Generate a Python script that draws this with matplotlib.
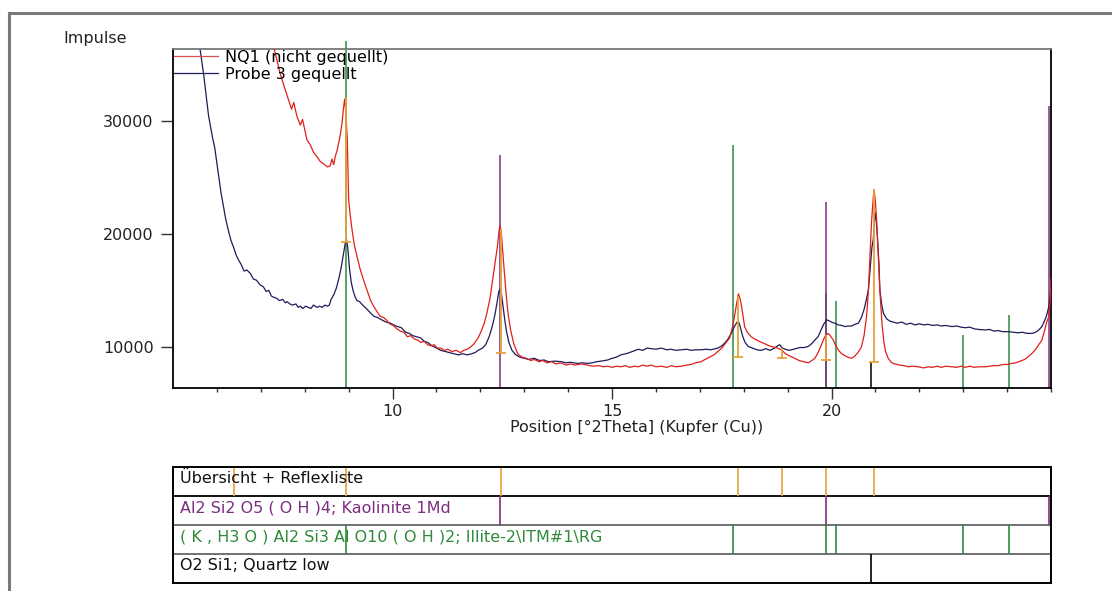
import numpy as np
import matplotlib
matplotlib.use("Agg")
import matplotlib.pyplot as plt
from matplotlib.lines import Line2D

# NQ1 (nicht gequellt)
theta_nq1 = [5.0, 6.0, 7.0, 7.3, 7.45, 7.6, 7.7, 7.75, 7.82, 7.9, 7.95, 8.05, 8.12, 8.2, 8.28, 8.35,
             8.45, 8.52, 8.58, 8.62, 8.66, 8.7, 8.74, 8.8, 8.85, 8.88, 8.91, 8.94, 8.97, 9.0, 9.04,
             9.08, 9.13, 9.19, 9.26, 9.34, 9.42, 9.5, 9.57, 9.65, 9.72, 9.8, 9.88, 9.95, 10.02, 10.1,
             10.18, 10.26, 10.34, 10.41, 10.5, 10.58, 10.64, 10.72, 10.8, 10.88, 10.95, 11.02, 11.1,
             11.18, 11.26, 11.35, 11.45, 11.55, 11.62, 11.7, 11.78, 11.86, 11.95, 12.02, 12.09, 12.15,
             12.22, 12.28, 12.34, 12.39, 12.43, 12.45, 12.48, 12.5, 12.54, 12.58, 12.63, 12.69, 12.76,
             12.85, 12.95, 13.05, 13.15, 13.23, 13.33, 13.42, 13.52, 13.62, 13.72, 13.84, 13.95, 14.05,
             14.15, 14.3, 14.44, 14.55, 14.7, 14.8, 14.9, 15.0, 15.1, 15.2, 15.3, 15.4, 15.51, 15.6,
             15.7, 15.8, 15.89, 16.0, 16.12, 16.25, 16.35, 16.45, 16.58, 16.7, 16.8, 16.9, 17.03, 17.12,
             17.22, 17.32, 17.41, 17.5, 17.58, 17.68, 17.74, 17.79, 17.84, 17.88, 17.92, 17.95, 17.99,
             18.02, 18.08, 18.17, 18.25, 18.35, 18.47, 18.58, 18.68, 18.77, 18.86, 18.95, 19.05, 19.16,
             19.26, 19.36, 19.47, 19.55, 19.62, 19.68, 19.75, 19.81, 19.86, 19.92, 19.97, 20.04, 20.1,
             20.16, 20.23, 20.32, 20.4, 20.46, 20.53, 20.6, 20.68, 20.74, 20.8, 20.84, 20.88, 20.91,
             20.95, 20.97, 21.0, 21.03, 21.07, 21.1, 21.15, 21.19, 21.23, 21.29, 21.37, 21.45, 21.55,
             21.65, 21.75, 21.85, 21.97, 22.1, 22.2, 22.3, 22.4, 22.5, 22.6, 22.74, 22.85, 22.95, 23.05,
             23.15, 23.25, 23.35, 23.5, 23.6, 23.7, 23.8, 23.9, 24.0, 24.11, 24.2, 24.3, 24.4, 24.5,
             24.57, 24.65, 24.72, 24.79, 24.85, 24.9, 24.95, 24.98, 25.0]
counts_nq1 = [48000, 44000, 38500, 36400, 34000, 32200, 31000, 31600, 30400, 29600, 30100, 28300, 27900,
              27200, 26800, 26400, 26100, 25900, 26000, 26600, 26100, 26900, 27400, 28500, 29800, 31000,
              31900, 30500, 28300, 23000, 21500, 20300, 19000, 18000, 16900, 15900, 15000, 14100, 13600,
              13100, 12700, 12600, 12300, 12000, 11900, 11600, 11400, 11300, 10900, 11000, 10700, 10600,
              10400, 10500, 10200, 10100, 10200, 9900, 9900, 9700, 9800, 9600, 9700, 9500, 9700, 9800,
              10000, 10300, 10800, 11400, 12100, 13000, 14300, 15900, 17500, 18900, 20400, 20700, 20100,
              18900, 17000, 15000, 13000, 11500, 10300, 9400, 9100, 9000, 8800, 8900, 8700, 8800, 8600,
              8700, 8500, 8600, 8400, 8500, 8400, 8500, 8400, 8300, 8350, 8250, 8300, 8200, 8300, 8250,
              8350, 8200, 8300, 8250, 8400, 8300, 8400, 8250, 8300, 8200, 8350, 8250, 8300, 8400, 8450,
              8600, 8700, 8900, 9100, 9300, 9600, 9900, 10300, 10800, 11700, 12700, 13900, 14700, 14200,
              13600, 12600, 11800, 11300, 10900, 10700, 10500, 10300, 10100, 10000, 9900, 9750, 9400,
              9200, 9000, 8800, 8700, 8600, 8800, 9000, 9400, 10000, 10600, 11000, 11200, 11000, 10600,
              10100, 9700, 9400, 9200, 9050, 9000, 9200, 9500, 10000, 11000, 12800, 15000, 18500, 21000,
              23200, 23900, 22800, 21000, 17500, 15000, 12000, 10500, 9600, 9000, 8600, 8500, 8400, 8350,
              8250, 8300, 8250, 8150, 8250, 8200, 8300, 8200, 8300, 8250, 8200, 8300, 8200, 8300, 8200,
              8250, 8250, 8300, 8350, 8350, 8450, 8450, 8550, 8600, 8750, 8900, 9200, 9450, 9800, 10200,
              10600, 11400, 12200, 12700, 14000, 16000]

# Probe 3 gequellt
theta_p3 = [5.0, 5.3, 5.5, 5.62, 5.7, 5.81, 5.9, 5.95, 6.03, 6.09, 6.15, 6.2, 6.26, 6.32, 6.38, 6.44,
            6.49, 6.55, 6.62, 6.68, 6.76, 6.83, 6.9, 6.98, 7.06, 7.12, 7.18, 7.24, 7.29, 7.36, 7.42,
            7.5, 7.56, 7.6, 7.66, 7.72, 7.8, 7.85, 7.9, 7.96, 8.02, 8.08, 8.14, 8.2, 8.28, 8.34, 8.4,
            8.46, 8.52, 8.56, 8.6, 8.66, 8.72, 8.78, 8.83, 8.88, 8.92, 8.95, 8.98, 9.02, 9.06, 9.1,
            9.15, 9.19, 9.25, 9.32, 9.4, 9.5, 9.58, 9.66, 9.75, 9.85, 9.95, 10.05, 10.12, 10.2, 10.3,
            10.38, 10.46, 10.55, 10.64, 10.72, 10.8, 10.9, 11.0, 11.1, 11.2, 11.3, 11.4, 11.5, 11.6,
            11.7, 11.8, 11.88, 11.95, 12.05, 12.12, 12.2, 12.27, 12.33, 12.38, 12.42, 12.45, 12.48,
            12.52, 12.56, 12.6, 12.65, 12.72, 12.81, 12.9, 13.0, 13.1, 13.23, 13.35, 13.45, 13.55,
            13.7, 13.84, 13.95, 14.05, 14.2, 14.32, 14.44, 14.55, 14.65, 14.75, 14.9, 15.0, 15.1, 15.2,
            15.36, 15.5, 15.6, 15.7, 15.8, 15.89, 16.0, 16.12, 16.25, 16.35, 16.45, 16.58, 16.7, 16.8,
            16.9, 17.03, 17.15, 17.25, 17.35, 17.41, 17.5, 17.58, 17.64, 17.7, 17.75, 17.8, 17.85,
            17.88, 17.92, 17.95, 17.98, 18.03, 18.1, 18.2, 18.3, 18.4, 18.5, 18.6, 18.7, 18.77, 18.82,
            18.88, 18.95, 19.02, 19.09, 19.18, 19.28, 19.38, 19.47, 19.55, 19.62, 19.7, 19.76, 19.82,
            19.89, 19.95, 20.02, 20.08, 20.15, 20.23, 20.31, 20.38, 20.46, 20.53, 20.61, 20.68, 20.74,
            20.8, 20.84, 20.88, 20.92, 20.95, 20.99, 21.02, 21.05, 21.08, 21.1, 21.14, 21.18, 21.25,
            21.32, 21.4, 21.5, 21.6, 21.7, 21.8, 21.9, 22.0, 22.1, 22.2, 22.3, 22.4, 22.5, 22.6, 22.74,
            22.85, 22.95, 23.05, 23.15, 23.25, 23.35, 23.5, 23.6, 23.7, 23.8, 23.9, 24.03, 24.15, 24.25,
            24.35, 24.45, 24.57, 24.65, 24.72, 24.79, 24.85, 24.9, 24.95, 25.0]
counts_p3 = [46000, 40000, 37500, 36200, 34000, 30400, 28500, 27600, 25400, 23700, 22400, 21300, 20300,
             19400, 18800, 18100, 17700, 17300, 16700, 16800, 16500, 16000, 15900, 15500, 15300, 14900,
             15000, 14500, 14400, 14300, 14100, 14200, 13900, 14000, 13800, 13700, 13800, 13500, 13600,
             13400, 13600, 13500, 13400, 13700, 13500, 13600, 13500, 13700, 13600, 13700, 14200, 14600,
             15200, 16100, 17000, 18200, 19100, 19500, 18800, 16900, 15700, 15000, 14400, 14100, 14000,
             13700, 13400, 13000, 12700, 12600, 12400, 12200, 12100, 11900, 11800, 11700, 11300, 11200,
             11000, 10900, 10800, 10500, 10400, 10100, 9900, 9700, 9600, 9500, 9400, 9300, 9400, 9300,
             9400, 9500, 9700, 9900, 10200, 10900, 11800, 12800, 13900, 14900, 15100, 14700, 13500,
             12300, 11300, 10400, 9700, 9300, 9100, 9000, 8900, 9000, 8800, 8850, 8700, 8750, 8700,
             8600, 8650, 8550, 8600, 8550, 8600, 8700, 8750, 8850, 9000, 9100, 9300, 9450, 9650, 9800,
             9700, 9900, 9850, 9800, 9900, 9750, 9800, 9700, 9750, 9800, 9700, 9750, 9750, 9800, 9750,
             9850, 9900, 10100, 10400, 10700, 11100, 11500, 11900, 12200, 12250, 11800, 11300, 10900,
             10400, 10050, 9900, 9750, 9700, 9850, 9700, 9900, 10100, 10200, 9900, 9800, 9700, 9750,
             9850, 9950, 9950, 10050, 10300, 10600, 10950, 11500, 12000, 12400, 12300, 12150, 12100,
             11950, 11900, 11800, 11850, 11850, 12000, 12100, 12600, 13300, 14300, 15100, 17000, 18800,
             19500, 21900, 21000, 19400, 17300, 15100, 13800, 13000, 12500, 12300, 12200, 12100, 12200,
             12000, 12100, 11950, 12050, 11950, 12000, 11900, 11950, 11850, 11900, 11800, 11850, 11750,
             11700, 11750, 11600, 11550, 11500, 11550, 11400, 11450, 11350, 11350, 11300, 11250, 11300,
             11200, 11200, 11300, 11500, 11800, 12300, 12800, 13600, 15300]

# reference patterns (position, relative height in counts)
illite_pos = [8.93, 17.76, 19.88, 20.10, 23.00, 24.05]
illite_int = [37000, 27800, 14800, 14100, 11100, 12800]
kaolinite_pos = [12.44, 19.87, 24.95]
kaolinite_int = [27000, 22800, 31300]
quartz_pos = [20.90]
quartz_int = [8700]

# Reflexliste: peak position, peak top, background
reflex_pos = [6.39, 8.93, 12.46, 17.86, 18.88, 19.88, 20.96]
reflex_top = [np.nan, 32000, 20400, 14500, 9900, 11100, 23900]
reflex_base = [np.nan, 19300, 9500, 9150, 9000, 8850, 8700]

row_labels = ["Übersicht + Reflexliste",
              "Al2 Si2 O5 ( O H )4; Kaolinite 1Md",
              "( K , H3 O ) Al2 Si3 Al O10 ( O H )2; Illite-2\\ITM#1\\RG",
              "O2 Si1; Quartz low"]

c_red = "#e0201c"
c_blue = "#1c1c5c"
c_green = "#2f8a3a"
c_purple = "#7d2c80"
c_orange = "#e6a23c"
row_colors = ["#111111", c_purple, c_green, "#111111"]

plt.rcParams['font.family'] = ['DejaVu Sans']

fig = plt.figure(figsize=(11.12, 5.91), dpi=100)

# grey outer frame
fig.add_artist(Line2D([0.0085, 0.0085], [0.0, 0.978], color="#7a7a7a", lw=2.2))
fig.add_artist(Line2D([0.0085, 1.0], [0.978, 0.978], color="#7a7a7a", lw=2.2))

ax = fig.add_axes([0.1556, 0.3430, 0.7896, 0.5741])
ax.set_xlim(5, 25)
ax.set_ylim(6350, 36320)
y_floor = ax.get_ylim()[0]

# reference sticks
ax.vlines(illite_pos[:1], y_floor, illite_int[:1], color=c_green, lw=1.1, zorder=1, clip_on=False)
ax.vlines(illite_pos[1:], y_floor, illite_int[1:], color=c_green, lw=1.1, zorder=1)
ax.vlines(kaolinite_pos, y_floor, kaolinite_int, color=c_purple, lw=1.1, zorder=1)
ax.vlines(quartz_pos, y_floor, quartz_int, color="black", lw=1.1, zorder=1)

ax.plot(theta_nq1, counts_nq1, color=c_red, lw=0.9, label="NQ1 (nicht gequellt)", zorder=3)
ax.plot(theta_p3, counts_p3, color=c_blue, lw=0.9, label="Probe 3 gequellt", zorder=2)

# peak markers
ax.vlines(reflex_pos, reflex_base, reflex_top, color=c_orange, lw=1.3, zorder=4)
ax.plot(reflex_pos, reflex_base, ls="none", marker="_", ms=7, mew=1.3, color=c_orange, zorder=4)

ax.set_xticks([10, 15, 20])
ax.set_xticks(np.arange(6, 26, 1), minor=True)
ax.set_yticks([10000, 20000, 30000])
ax.tick_params(axis="both", which="major", direction="out", labelsize=11.5, width=1, color="#333",
               labelcolor="#222")
ax.tick_params(axis="x", which="major", length=8, pad=3)
ax.tick_params(axis="x", which="minor", length=3, width=1, color="#333")
ax.tick_params(axis="y", which="major", length=9, pad=5)
for s in ["left", "bottom", "right"]:
    ax.spines[s].set_color("black")
    ax.spines[s].set_linewidth(1.3)
ax.spines["top"].set_color("#777777")
ax.spines["top"].set_linewidth(1.3)

leg = ax.legend(loc="upper left", frameon=False, fontsize=11.5, handlelength=2.75,
                handletextpad=0.45, labelspacing=0.12, borderaxespad=0.0, borderpad=0.05)
leg.get_lines()[0].set_color("#d85050")

fig.text(63 / 1112, 1 - 38 / 591, "Impulse", fontsize=11.5, ha="left", va="center", color="#222")
fig.text(637 / 1112, 1 - 427 / 591, "Position [°2Theta] (Kupfer (Cu))", fontsize=11.5,
         ha="center", va="center", color="#222")

# phase panel
ax2 = fig.add_axes([0.1556, 0.0127, 0.7896, 0.1976])
ax2.set_xlim(5, 25)
ax2.set_ylim(4, 0)
ax2.set_xticks([])
ax2.set_yticks([])
for s in ax2.spines.values():
    s.set_color("black")
    s.set_linewidth(1.4)
ax2.axhline(1, color="black", lw=1.3)
ax2.axhline(2, color="#666666", lw=1.3)
ax2.axhline(3, color="#666666", lw=1.3)

ax2.vlines(reflex_pos, 0, 1, color=c_orange, lw=1.2)
ax2.vlines(kaolinite_pos, 1, 2, color=c_purple, lw=1.2)
ax2.vlines(illite_pos, 2, 3, color=c_green, lw=1.2)
ax2.vlines(quartz_pos, 3, 4, color="black", lw=1.2)

for i, (lab, col) in enumerate(zip(row_labels, row_colors)):
    ax2.text(5.16, i + 0.40, lab, color=col, fontsize=11.5, ha="left", va="center")

fig.savefig("out.png", dpi=100)
